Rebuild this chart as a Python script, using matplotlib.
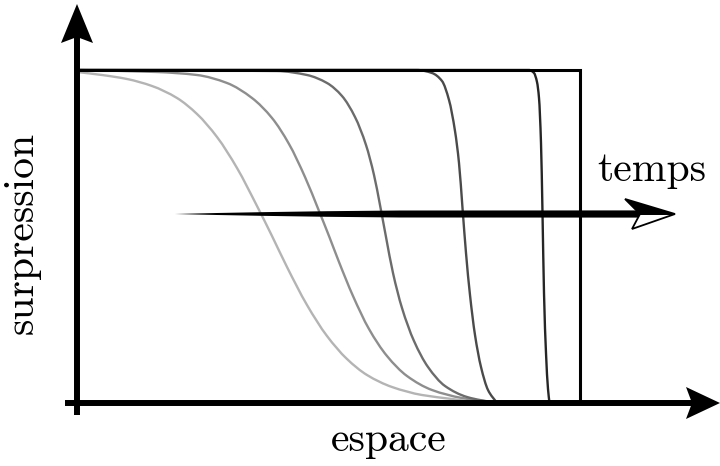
import numpy as np
import matplotlib.pyplot as plt
from matplotlib.patches import Polygon, PathPatch
from matplotlib.path import Path

# curves: espace (x) and surpression (y), arbitrary units
x1 = [0, 25, 50, 75, 100, 120, 140, 160, 180, 195, 210, 230, 250, 270, 290, 315, 345, 375, 403]
y1 = [331, 328, 324, 317, 305, 289, 266, 235, 197, 167, 136, 98, 67, 44, 28, 16, 8, 4, 0]

x2 = [0, 80, 120, 150, 175, 195, 212, 228, 242, 252, 262, 276, 292, 310, 330, 355, 385, 423]
y2 = [333, 331, 328, 320, 305, 285, 259, 226, 192, 167, 141, 107, 74, 47, 27, 13, 5, 0]

x3 = [0, 200, 230, 250, 265, 278, 289, 297, 303, 309, 316, 325, 337, 351, 368, 390, 419]
y3 = [333, 332, 328, 320, 307, 286, 258, 228, 198, 166, 130, 95, 62, 36, 17, 6, 0]

x4 = [0, 340, 355, 365, 372, 378, 382, 385.5, 389, 393, 398, 404, 411, 420]
y4 = [333, 333, 330, 322, 303, 272, 240, 195, 150, 108, 68, 36, 13, 0]

x5 = [0, 452, 457, 460, 462, 464, 465.5, 467, 469, 471, 472.5]
y5 = [333, 333, 330, 321, 305, 260, 190, 110, 50, 14, 0]

x_step = [0, 503, 503]
y_step = [333, 333, 0]

curves = [(x1, y1), (x2, y2), (x3, y3), (x4, y4), (x5, y5)]
greys = ['#b4b4b4', '#8e8e8e', '#6c6c6c', '#4a4a4a', '#262626']

plt.rcParams['font.family'] = ['cmr10', 'DejaVu Serif']

fig = plt.figure(figsize=(7.2, 4.66), dpi=100)
ax = fig.add_axes([0, 0, 1, 1])
ax.set_xlim(-77, 643)
ax.set_ylim(-63, 403)
ax.axis('off')


def smooth_path(x, y):
    # monotone cubic bezier through the read points (pchip slopes)
    x = np.asarray(x, float)
    y = np.asarray(y, float)
    h = np.diff(x)
    d = np.diff(y) / h
    m = np.zeros_like(x)
    m[0], m[-1] = d[0], d[-1]
    for k in range(1, len(x) - 1):
        if d[k - 1] * d[k] > 0:
            w1 = 2 * h[k] + h[k - 1]
            w2 = h[k] + 2 * h[k - 1]
            m[k] = (w1 + w2) / (w1 / d[k - 1] + w2 / d[k])
    verts = [(x[0], y[0])]
    codes = [Path.MOVETO]
    for k in range(len(h)):
        verts += [(x[k] + h[k] / 3, y[k] + m[k] * h[k] / 3),
                  (x[k + 1] - h[k] / 3, y[k + 1] - m[k + 1] * h[k] / 3),
                  (x[k + 1], y[k + 1])]
        codes += [Path.CURVE4] * 3
    return Path(verts, codes)


for (x, y), c in zip(curves, greys):
    ax.add_patch(PathPatch(smooth_path(x, y), facecolor='none', edgecolor=c,
                           lw=1.7, capstyle='butt'))
ax.plot(x_step, y_step, color='black', lw=2.2, solid_joinstyle='miter')


def stealth(tip, direction, length, half_w, notch, **kw):
    d = np.array(direction, float)
    n = np.array([-d[1], d[0]])
    tip = np.array(tip, float)
    base = tip - d * length
    pts = [tip, base + n * half_w, tip - d * (length - notch), base - n * half_w]
    ax.add_patch(Polygon(pts, closed=True, **kw))
    return tip - d * (length - notch)


# axes with filled arrow heads
end = stealth((0, 399), (0, 1), 39, 16, 6, facecolor='black', edgecolor='none')
ax.plot([0, 0], [-12, end[1] + 1], color='black', lw=4.3, solid_capstyle='butt')
end = stealth((643, 0), (1, 0), 34, 16, 6, facecolor='black', edgecolor='none')
ax.plot([-12, end[0] + 1], [0, 0], color='black', lw=4.3, solid_capstyle='butt')

# tapered "temps" arrow
yc = 189
sx = [98, 140, 183, 250, 323, 563]
sw = [0.0, 1.0, 1.8, 2.8, 3.5, 3.6]
top = [(a, yc + w) for a, w in zip(sx, sw)]
bot = [(a, yc - w) for a, w in zip(sx[::-1], sw[::-1])]
ax.add_patch(Polygon(top + bot, closed=True, facecolor='black', edgecolor='none'))
tip, notch = (598, yc), (563, yc)
barb_up, barb_lo = (548, yc + 15), (555, yc - 15)
ax.add_patch(Polygon([tip, barb_lo, notch], closed=True, facecolor='white',
                     edgecolor='black', lw=1.3, joinstyle='miter'))
ax.add_patch(Polygon([tip, barb_up, notch], closed=True, facecolor='black',
                     edgecolor='black', lw=1.3, joinstyle='miter'))

ax.text(575, 233, 'temps', fontsize=30, ha='center', va='center')
ax.text(312, -37, 'espace', fontsize=30, ha='center', va='center')
ax.text(-55, 170, 'surpression', fontsize=30, ha='center', va='center', rotation=90)

fig.savefig('out.png', dpi=100)
